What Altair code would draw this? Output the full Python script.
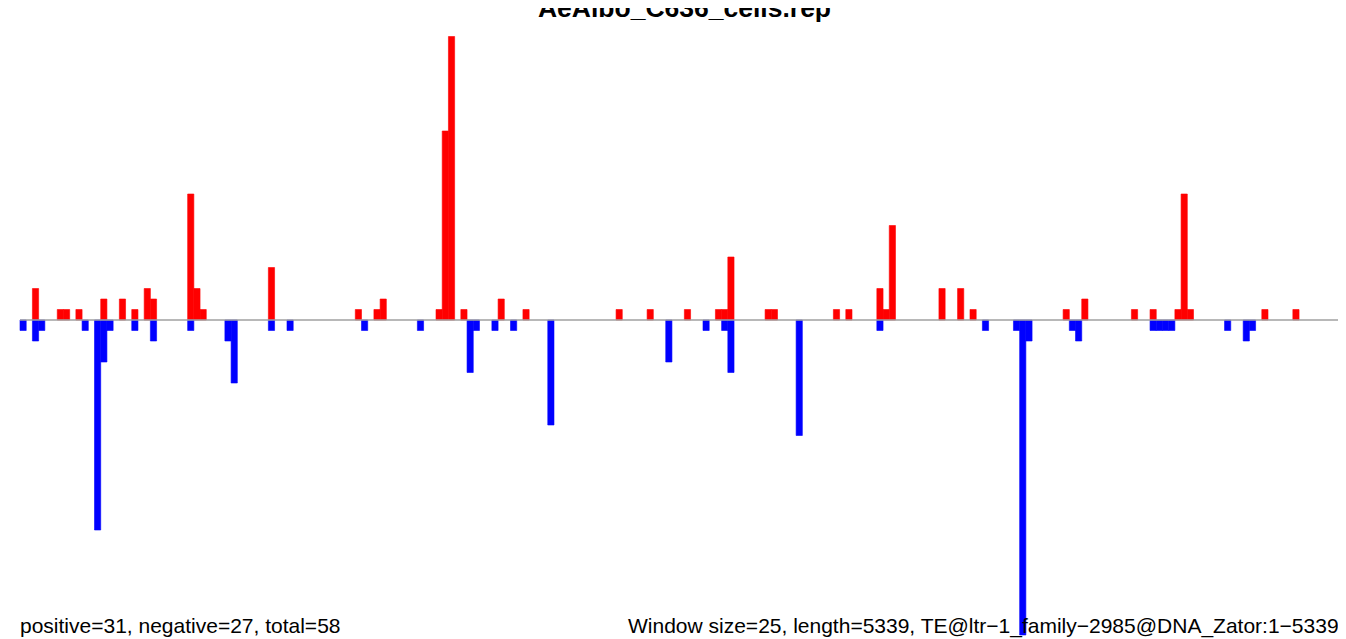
import altair as alt
import pandas as pd

# ---- data ----
title_text = "AeAlbo_C636_cells.rep"
left_note = "positive=31, negative=27, total=58"
right_note = "Window size=25, length=5339, TE@ltr\u22121_family\u22122985@DNA_Zator:1\u22125339"

window_size = 25
seq_length = 5339

pos_windows = [2, 6, 7, 9, 13, 16, 18, 20, 21, 27, 28, 29, 40, 54, 57, 58, 67, 68, 69, 71,
               77, 81, 96, 101, 107, 112, 113, 114, 120, 121, 131, 133, 138, 139, 140, 148,
               151, 153, 168, 171, 179, 182, 186, 187, 188, 200, 205]
pos_counts = [3, 1, 1, 1, 2, 2, 1, 3, 2, 12, 3, 1, 5, 1, 1, 2, 1, 18, 27, 1,
              2, 1, 1, 1, 1, 1, 1, 6, 1, 1, 1, 1, 3, 1, 9, 3,
              3, 1, 1, 2, 1, 1, 1, 12, 1, 1, 1]

neg_windows = [0, 2, 3, 10, 12, 13, 14, 18, 21, 27, 33, 34, 40, 43, 55, 64, 72, 73, 76, 79,
               85, 104, 110, 113, 114, 125, 138, 155, 160, 161, 162, 169, 170, 182, 183,
               184, 185, 194, 197, 198]
neg_counts = [-1, -2, -1, -1, -20, -4, -1, -1, -2, -1, -2, -6, -1, -1, -1, -1, -5, -1, -1, -1,
              -10, -4, -1, -1, -5, -11, -1, -1, -1, -30, -2, -1, -2, -1, -1,
              -1, -1, -1, -2, -1]

# ---- build table ----
rows = []
for w, c in zip(pos_windows, pos_counts):
    rows.append({"start": w * window_size, "end": min((w + 1) * window_size, seq_length),
                 "count": c, "zero": 0, "strand": "pos"})
for w, c in zip(neg_windows, neg_counts):
    rows.append({"start": w * window_size, "end": min((w + 1) * window_size, seq_length),
                 "count": c, "zero": 0, "strand": "neg"})
df = pd.DataFrame(rows)

W, H = 1330, 631
xscale = alt.Scale(domain=[0, seq_length], range=[12, 1338], nice=False, zero=False)
yscale = alt.Scale(domain=[-30, 27], range=[627, 28.5], nice=False, zero=False)
cscale = alt.Scale(domain=["pos", "neg"], range=["#FF0000", "#0000FF"])

bars = alt.Chart(df).mark_rect(strokeWidth=0.6).encode(
    x=alt.X("start:Q", scale=xscale, axis=None),
    x2="end:Q",
    y=alt.Y("count:Q", scale=yscale, axis=None),
    y2="zero:Q",
    color=alt.Color("strand:N", scale=cscale, legend=None),
    stroke=alt.Stroke("strand:N", scale=cscale, legend=None),
)

base_df = pd.DataFrame({"x0": [0], "x1": [seq_length], "y": [0]})
baseline = alt.Chart(base_df).mark_rule(color="#A0A0A0", strokeWidth=1.5).encode(
    x=alt.X("x0:Q", scale=xscale, axis=None),
    x2="x1:Q",
    y=alt.Y("y:Q", scale=yscale, axis=None),
)

one = pd.DataFrame({"k": [0]})
title = alt.Chart(one).mark_text(text=title_text, font="Liberation Sans", fontWeight="bold",
                                 fontSize=26.5, align="center", baseline="alphabetic",
                                 color="black").encode(x=alt.value(676.5), y=alt.value(9))
left = alt.Chart(one).mark_text(text=left_note, font="Liberation Sans", fontSize=21,
                                align="left", baseline="alphabetic",
                                color="black").encode(x=alt.value(12), y=alt.value(625))
right = alt.Chart(one).mark_text(text=right_note, font="Liberation Sans", fontSize=21,
                                 align="left", baseline="alphabetic",
                                 color="black").encode(x=alt.value(620), y=alt.value(625))

chart = alt.layer(bars, baseline, title, left, right).properties(
    width=W, height=H, autosize=alt.AutoSizeParams(type="none"), padding=0,
    background="white",
).configure_view(stroke=None)

chart.save("out.html", embed_options={"renderer": "svg", "actions": False})
